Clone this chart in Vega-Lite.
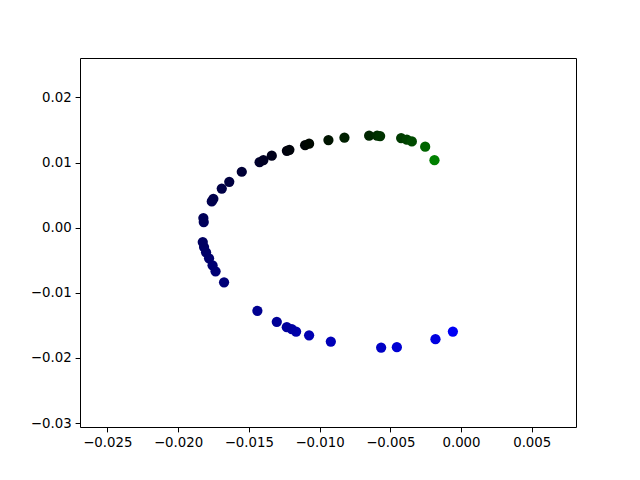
{
  "$schema": "https://vega.github.io/schema/vega-lite/v6.json",
  "width": 496,
  "height": 369,
  "autosize": {"type": "none"},
  "padding": {"left": 80, "top": 58, "right": 64, "bottom": 53},
  "background": "white",
  "config": {
    "view": {"stroke": "black", "strokeWidth": 1},
    "axis": {
      "grid": false,
      "domain": false,
      "tickColor": "black",
      "tickSize": 4.9,
      "tickWidth": 1,
      "labelFont": "DejaVu Sans",
      "labelFontSize": 13.3,
      "labelColor": "black",
      "labelPadding": 4,
      "title": null
    }
  },
  "data": {
    "values": [
      {"t": 0, "x": -0.000573, "y": -0.015945},
      {"t": 1, "x": -0.001804, "y": -0.017112},
      {"t": 2, "x": -0.004533, "y": -0.018341},
      {"t": 3, "x": -0.005644, "y": -0.018403},
      {"t": 4, "x": -0.009201, "y": -0.017481},
      {"t": 5, "x": -0.010736, "y": -0.016529},
      {"t": 6, "x": -0.011655, "y": -0.015945},
      {"t": 7, "x": -0.011959, "y": -0.015576},
      {"t": 8, "x": -0.012313, "y": -0.015269},
      {"t": 9, "x": -0.01302, "y": -0.014455},
      {"t": 10, "x": -0.014392, "y": -0.012765},
      {"t": 11, "x": -0.016747, "y": -0.008387},
      {"t": 12, "x": -0.017348, "y": -0.006697},
      {"t": 13, "x": -0.01756, "y": -0.005776},
      {"t": 14, "x": -0.017808, "y": -0.0047},
      {"t": 15, "x": -0.01802, "y": -0.003779},
      {"t": 16, "x": -0.018161, "y": -0.00298},
      {"t": 17, "x": -0.018253, "y": -0.002212},
      {"t": 18, "x": -0.018183, "y": 0.00086},
      {"t": 19, "x": -0.018211, "y": 0.001475},
      {"t": 20, "x": -0.017617, "y": 0.004025},
      {"t": 21, "x": -0.017504, "y": 0.004439},
      {"t": 22, "x": -0.01691, "y": 0.006006},
      {"t": 23, "x": -0.016379, "y": 0.007051},
      {"t": 24, "x": -0.015495, "y": 0.008587},
      {"t": 25, "x": -0.014236, "y": 0.010046},
      {"t": 26, "x": -0.013968, "y": 0.010384},
      {"t": 27, "x": -0.013374, "y": 0.011045},
      {"t": 28, "x": -0.012306, "y": 0.011793},
      {"t": 29, "x": -0.012129, "y": 0.011946},
      {"t": 30, "x": -0.011019, "y": 0.012657},
      {"t": 31, "x": -0.010736, "y": 0.012888},
      {"t": 32, "x": -0.009371, "y": 0.013456},
      {"t": 33, "x": -0.008239, "y": 0.01381},
      {"t": 34, "x": -0.006493, "y": 0.014117},
      {"t": 35, "x": -0.005927, "y": 0.014117},
      {"t": 36, "x": -0.005715, "y": 0.014071},
      {"t": 37, "x": -0.00423, "y": 0.013763},
      {"t": 38, "x": -0.003826, "y": 0.013502},
      {"t": 39, "x": -0.003473, "y": 0.013241},
      {"t": 40, "x": -0.002532, "y": 0.012427},
      {"t": 41, "x": -0.001875, "y": 0.010353}
    ]
  },
  "mark": {"type": "point", "filled": true, "opacity": 1, "size": 105, "shape": "circle"},
  "encoding": {
    "x": {
      "field": "x",
      "type": "quantitative",
      "scale": {"domain": [-0.02693, 0.00813], "nice": false, "zero": false},
      "axis": {"values": [-0.025, -0.02, -0.015, -0.01, -0.005, 0, 0.005], "format": ".3f"}
    },
    "y": {
      "field": "y",
      "type": "quantitative",
      "scale": {"domain": [-0.0306, 0.02605], "nice": false, "zero": false},
      "axis": {"values": [-0.03, -0.02, -0.01, 0, 0.01, 0.02], "format": ".2f"}
    },
    "color": {
      "field": "t",
      "type": "quantitative",
      "legend": null,
      "scale": {
        "type": "linear",
        "domain": [0, 1, 4, 10, 11, 17, 23, 28, 31, 33, 36, 39, 40, 41],
        "range": ["#0000f5", "#0000e0", "#0000b8", "#000090", "#000078", "#000062", "#000040", "#000010", "#000800", "#002000", "#003300", "#004a00", "#006400", "#008000"],
        "interpolate": "rgb"
      }
    }
  }
}
